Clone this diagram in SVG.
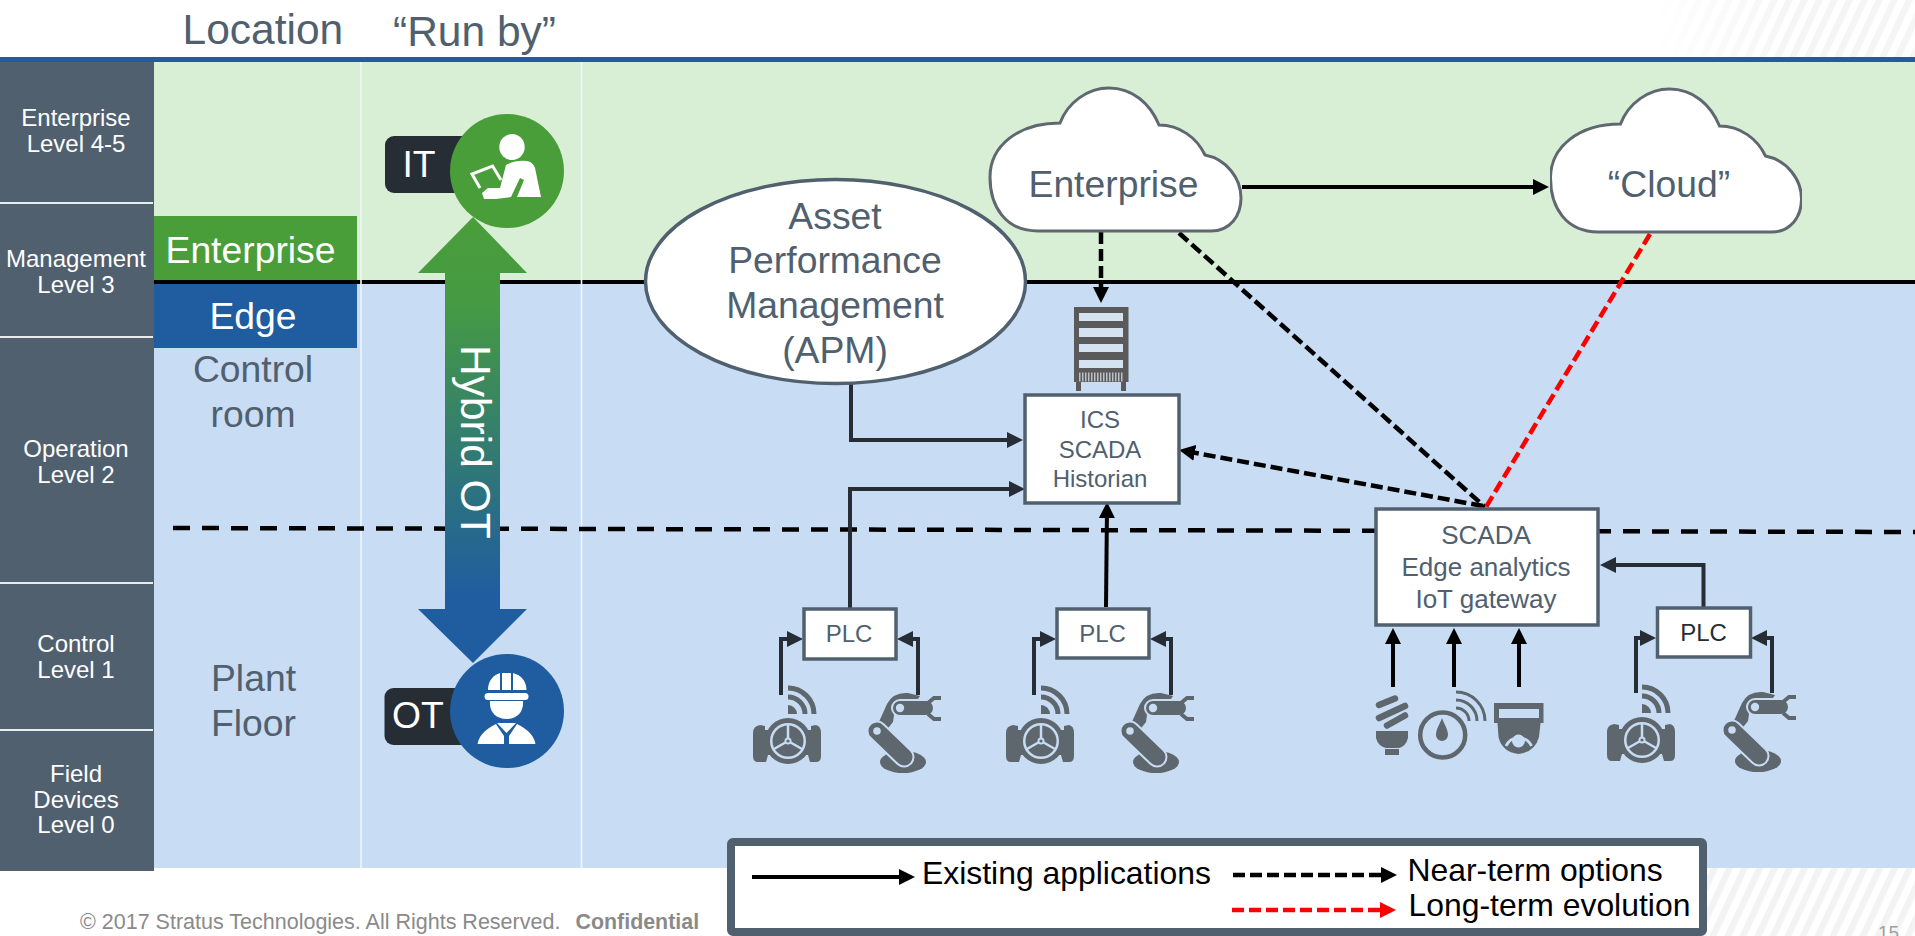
<svg xmlns="http://www.w3.org/2000/svg" width="1915" height="936" viewBox="0 0 1915 936">
<style>
text{font-family:"Liberation Sans",Arial,sans-serif}
.side{font-size:24px;fill:#fff;text-anchor:middle}
.big{font-size:37.300px;fill:#50606e;text-anchor:middle}
.head{font-size:42.500px;fill:#50606e}
.wbig{font-size:37.300px;fill:#fff;text-anchor:middle}
.box{fill:#fff;stroke:#50606e;stroke-width:3.500}
.mid{font-size:24px;fill:#50606e;text-anchor:middle}
.leg{font-size:31.900px;fill:#000}
.c{fill:none;stroke-width:4}
.k{stroke:#000}.d{stroke:#262d34}.r{stroke:#f00}
.dash{stroke-dasharray:12 5;stroke-width:4.500}
.cloud{fill:#fff;stroke:#5f6871;stroke-width:3}
.ic{fill:#5e666e}
.ics{fill:none;stroke:#5e666e}
.bgs{fill:#c8dcf4}
.sep{stroke:#e8ecef;stroke-width:2}
</style>
<defs>
<marker id="mk" markerUnits="userSpaceOnUse" markerWidth="16" markerHeight="16" viewBox="0 0 16 16" refX="10" refY="8" orient="auto"><path d="M0 0L16 8L0 16Z" fill="#000"/></marker>
<marker id="md" markerUnits="userSpaceOnUse" markerWidth="16" markerHeight="16" viewBox="0 0 16 16" refX="10" refY="8" orient="auto"><path d="M0 0L16 8L0 16Z" fill="#262d34"/></marker>
<marker id="mr" markerUnits="userSpaceOnUse" markerWidth="16" markerHeight="16" viewBox="0 0 16 16" refX="10" refY="8" orient="auto"><path d="M0 0L16 8L0 16Z" fill="#f00"/></marker>
<linearGradient id="hy" gradientUnits="userSpaceOnUse" x1="0" y1="217" x2="0" y2="663">
<stop offset="0" stop-color="#4a9e3a"/><stop offset="0.2" stop-color="#459a44"/><stop offset="0.85" stop-color="#1f5ca0"/><stop offset="1" stop-color="#1f5ca0"/>
</linearGradient>
<pattern id="hatch" patternUnits="userSpaceOnUse" width="13.600" height="10" patternTransform="rotate(25)"><rect width="6.500" height="10" fill="#f3f3f3"/></pattern>
<pattern id="hatch2" patternUnits="userSpaceOnUse" width="13.600" height="10" patternTransform="rotate(25)"><rect width="6.500" height="10" fill="#f5f5f5"/></pattern>
<linearGradient id="fade" gradientUnits="userSpaceOnUse" x1="1655" y1="0" x2="1790" y2="0"><stop offset="0" stop-color="#fff" stop-opacity="1"/><stop offset="1" stop-color="#fff" stop-opacity="0"/></linearGradient>
<path id="cloudp" d="M1038 231C1005 231 990 206 990 177C990 146 1018 123 1060 123C1068 102 1088 88 1109 88C1132 88 1150 103 1159 125C1180 125 1197 138 1205 155C1226 159 1241 178 1241 198C1241 216 1230 231 1211 231Z"/>
<g id="valve">
<path class="ic" d="M753 733Q753 726 760 725L765 726V730H811V726L816 725Q821 726 821 733V756Q821 762 816 762H810L808 755H768L766 762H758Q753 762 753 756Z"/>
<circle class="ic" cx="788" cy="741" r="23"/>
<circle class="bgs" cx="788" cy="741" r="18"/>
<circle class="ic" cx="788" cy="741" r="15.500"/>
<path d="M788 741V725M788 741L774 749M788 741L802 749" stroke="#c8dcf4" stroke-width="2.500"/>
<circle cx="788" cy="741" r="3.500" fill="#c8dcf4"/><circle class="ic" cx="788" cy="741" r="1.600"/>
<path class="ic" d="M788 705A9 9 0 0 1 797 714H788Z"/>
<path class="ics" stroke-width="5" d="M788 697A17 17 0 0 1 805 714M788 688A26 26 0 0 1 814 714"/>
</g>
<g id="robot">
<ellipse class="ic" cx="903" cy="762" rx="23" ry="11"/>
<path class="ic" d="M878 724L887 704Q893 692 908 693L920 696L916 702L907 699Q898 699 895 708L893 722L885 732Z"/>
<path d="M877 731L904 757" stroke="#c8dcf4" stroke-width="21" stroke-linecap="round"/>
<path d="M877 731L904 757" stroke="#5e666e" stroke-width="17" stroke-linecap="round"/>
<circle cx="877" cy="731" r="3.800" fill="#c8dcf4"/>
<path d="M900 708H926" stroke="#c8dcf4" stroke-width="18" stroke-linecap="round"/>
<path d="M900 708H926" stroke="#5e666e" stroke-width="14" stroke-linecap="round"/>
<circle cx="900" cy="708" r="4.200" fill="#c8dcf4"/>
<path class="ics" stroke-width="3.800" d="M928 703L934 698H941M928 714L934 719H941"/>
</g>
</defs>

<g id="background">
<rect x="154" y="62" width="1761" height="220" fill="#d8efd5"/>
<rect x="154" y="282" width="1761" height="586" fill="#c8dcf4"/>
<rect x="1655" y="0" width="260" height="57" fill="url(#hatch2)"/>
<rect x="1655" y="0" width="135" height="57" fill="url(#fade)"/>
<rect x="1707" y="868" width="208" height="68" fill="url(#hatch)"/>
<rect x="0" y="57" width="1915" height="5" fill="#1f5ca0"/>
<rect x="154" y="280" width="1761" height="4" fill="#000"/>
<path d="M361 62V868M581.500 62V868" stroke="#f2f6fa" stroke-width="1.600"/>
<path d="M173 528L1915 532" stroke="#000" stroke-width="4.500" stroke-dasharray="17 12" fill="none"/>
</g>

<g id="levels">
<rect x="0" y="62" width="154" height="809" fill="#50606e"/>
<path class="sep" d="M0 203H153M0 337H153M0 583H153M0 730H153"/>
<text class="side" x="76" y="126">Enterprise</text><text class="side" x="76" y="152">Level 4-5</text>
<text class="side" x="76" y="267">Management</text><text class="side" x="76" y="293">Level 3</text>
<text class="side" x="76" y="457">Operation</text><text class="side" x="76" y="483">Level 2</text>
<text class="side" x="76" y="652">Control</text><text class="side" x="76" y="678">Level 1</text>
<text class="side" x="76" y="782">Field</text><text class="side" x="76" y="808">Devices</text><text class="side" x="76" y="833">Level 0</text>
</g>

<g id="headers">
<text class="head" x="182.500" y="44">Location</text>
<text class="head" x="393" y="46">“Run by”</text>
</g>

<g id="locations">
<rect x="154" y="216" width="203" height="64" fill="#4a9e3a"/>
<text class="wbig" x="250.500" y="263">Enterprise</text>
<rect x="154" y="284" width="203" height="64" fill="#1f5ca0"/>
<text class="wbig" x="253" y="329">Edge</text>
<text class="big" x="253" y="382">Control</text><text class="big" x="253" y="427">room</text>
<text class="big" x="253.500" y="691">Plant</text><text class="big" x="253.500" y="736">Floor</text>
</g>

<g id="hybrid">
<path d="M473 217L527 273H500V609H527L473 663L418 609H445V273H418Z" fill="url(#hy)"/>
<text transform="translate(460.500,345) rotate(90)" font-size="42.500" fill="#fff">Hybrid OT</text>
</g>

<g id="it">
<rect x="385" y="136" width="90" height="57" rx="9" fill="#262d34"/>
<text class="wbig" x="419" y="177">IT</text>
<circle cx="507" cy="171" r="57" fill="#4a9e3a"/>
<ellipse cx="512" cy="147" rx="12.700" ry="13" fill="#fff"/>
<path d="M506 165Q515 160 527 161Q533 162 535 168L541 197H517L524 180L520 178L511 197L496 199H484L482 193L488 188H500Z" fill="#fff"/>
<path d="M480 188L472 174L492.600 166L501 180" fill="none" stroke="#fff" stroke-width="3"/>
</g>

<g id="ot">
<rect x="384.500" y="688" width="90" height="57" rx="9" fill="#262d34"/>
<text class="wbig" x="418" y="728">OT</text>
<circle cx="507" cy="711" r="57" fill="#1f5ca0"/>
<path d="M488 690C488 680 494 675 500 673V690ZM502 673H511V690H502ZM513 673C520 675 526.500 680 526.500 690H513Z" fill="#fff"/>
<rect x="484.500" y="693" width="44" height="7" rx="3.500" fill="#fff"/>
<path d="M490 701H523C524 712 517 719 506.500 719C496 719 489 712 490 701Z" fill="#fff"/>
<path d="M477.500 744Q479.600 732 496 724L504 736V744ZM535.500 744Q533.400 732 517 724L509 736V744ZM497 723H516L506.500 733Z" fill="#fff"/>
</g>

<g id="connectors">
<path class="c k" marker-end="url(#mk)" d="M1242 187H1543"/>
<path class="c k dash" marker-end="url(#mk)" d="M1101 232V297"/>
<path class="c d" marker-end="url(#md)" d="M851 384V440H1017"/>
<path class="c d" marker-end="url(#md)" d="M850 608V489H1019"/>
<path class="c k" marker-end="url(#mk)" d="M1106 607L1107 508"/>
<path class="c k dash" marker-end="url(#mk)" d="M1483 506L1185 451"/>
<path class="c k dash" d="M1179 233L1485 507"/>
<path class="c r dash" d="M1650 234L1486 507"/>
<path class="c d" marker-end="url(#md)" d="M1703.500 607V565H1606"/>
<path class="c k" marker-end="url(#mk)" d="M1393 687V634"/>
<path class="c k" marker-end="url(#mk)" d="M1454 687V634"/>
<path class="c k" marker-end="url(#mk)" d="M1519 687V634"/>
<path class="c d" marker-end="url(#md)" d="M781 695V639H797"/>
<path class="c d" marker-end="url(#md)" d="M918 695V639H903"/>
<path class="c d" marker-end="url(#md)" d="M1034 695V639H1050"/>
<path class="c d" marker-end="url(#md)" d="M1171 695V639H1156"/>
<path class="c d" marker-end="url(#md)" d="M1636 693V638H1650"/>
<path class="c d" marker-end="url(#md)" d="M1772 693V638H1757"/>
</g>

<g id="apm">
<ellipse cx="835.500" cy="281.500" rx="190" ry="102" fill="#fff" stroke="#50606e" stroke-width="3.500"/>
<text class="big" x="835" y="229">Asset</text><text class="big" x="835" y="273">Performance</text><text class="big" x="835" y="318">Management</text><text class="big" x="835" y="363">(APM)</text>
</g>

<g id="enterprise-cloud">
<use href="#cloudp" class="cloud"/>
<text class="big" x="1113.500" y="197">Enterprise</text>
</g>

<g id="cloud">
<svg x="1550" y="80" width="252" height="160" viewBox="1550 80 252 160"><use href="#cloudp" class="cloud" transform="translate(560.500,1)"/></svg>
<text class="big" x="1669" y="197">“Cloud”</text>
</g>

<g id="server">
<rect x="1074" y="307" width="54.500" height="75" fill="#5a5a5a"/>
<path d="M1076 382h5v9h-5zM1121 382h5v9h-5z" fill="#5a5a5a"/>
<path d="M1079 313h44v8h-44zM1079 328h44v9h-44zM1079 344h44v8h-44zM1079 360h44v8h-44z" fill="#d5e2f0"/>
<path d="M1079 377h44" stroke="#b8bfc6" stroke-width="9" stroke-dasharray="1.500 1.500"/>
</g>

<g id="ics"><rect class="box" x="1025" y="395" width="154" height="108"/>
<text class="mid" x="1100" y="428">ICS</text><text class="mid" x="1100" y="458">SCADA</text><text class="mid" x="1100" y="487">Historian</text></g>

<g id="scada"><rect class="box" x="1376" y="509" width="222" height="116"/>
<text class="mid" style="font-size:26px" x="1486" y="544">SCADA</text><text class="mid" style="font-size:26px" x="1486" y="576">Edge analytics</text><text class="mid" style="font-size:26px" x="1486" y="608">IoT gateway</text></g>

<g id="plc1"><rect class="box" x="804" y="609" width="92" height="50"/><text class="mid" x="849" y="642">PLC</text></g>
<g id="plc2"><rect class="box" x="1057" y="609" width="92" height="49"/><text class="mid" x="1102.500" y="642">PLC</text></g>
<g id="plc3"><rect class="box" x="1657.500" y="608" width="93" height="49"/><text class="mid" style="fill:#262d34" x="1703.500" y="641">PLC</text></g>

<g id="valve1"><use href="#valve"/></g>
<g id="robot1"><use href="#robot"/></g>
<g id="valve2"><use href="#valve" x="253"/></g>
<g id="robot2"><use href="#robot" x="253"/></g>
<g id="valve3"><use href="#valve" x="854" y="-1"/></g>
<g id="robot3"><use href="#robot" x="855" y="-1"/></g>

<g id="bulb">
<path d="M1379 705L1395 698.500M1379 718L1405 706M1387 725.500L1405 715.500" stroke="#5e666e" stroke-width="6.500" stroke-linecap="round"/>
<path class="ic" d="M1376 731H1408V738Q1406 746 1399 748H1386Q1378 746 1376 738Z"/>
<rect class="ic" x="1385" y="749" width="14" height="6"/>
</g>
<g id="gauge">
<circle class="ics" cx="1442.700" cy="735" r="22.500" stroke-width="4.500"/>
<path class="ic" d="M1442 718C1444 724 1448 729 1448 735A6 6 0 0 1 1436 735C1436 729 1440 724 1442 718Z"/>
<path class="ics" stroke-width="3" d="M1456 692A29 29 0 0 1 1485 721M1456 700A21 21 0 0 1 1477 721M1456 708A13 13 0 0 1 1469 721"/>
</g>
<g id="camera">
<path class="ic" fill-rule="evenodd" d="M1494 703H1543.500V723H1494ZM1499 709V718H1539V709Z"/>
<path class="ic" d="M1497.500 723H1540.500L1539 737Q1535 752 1518.500 754Q1502 752 1498.500 737Z"/>
<path d="M1506 746A14 14 0 0 1 1531.500 746" fill="none" stroke="#c8dcf4" stroke-width="2.800"/>
<circle cx="1518.500" cy="741" r="6.500" fill="#c8dcf4"/>
</g>

<g id="legend">
<rect x="731" y="842" width="972" height="90" rx="2" fill="#fff" stroke="#50606e" stroke-width="8"/>
<path class="c k" marker-end="url(#mk)" d="M752 877H909"/>
<text class="leg" x="922" y="884">Existing applications</text>
<path class="c k dash" marker-end="url(#mk)" d="M1233 875H1391"/>
<text class="leg" x="1407.500" y="881">Near-term options</text>
<path class="c r dash" marker-end="url(#mr)" d="M1232 910H1390"/>
<text class="leg" x="1408.500" y="916">Long-term evolution</text>
</g>

<g id="footer">
<text x="80" y="929" font-size="21.500" fill="#8a8a8a">© 2017 Stratus Technologies. All Rights Reserved.<tspan x="575.500" font-weight="bold" font-size="21.400">Confidential</tspan></text>
<text x="1878" y="939" font-size="19" fill="#a0a0a0">15</text>
</g>
</svg>
